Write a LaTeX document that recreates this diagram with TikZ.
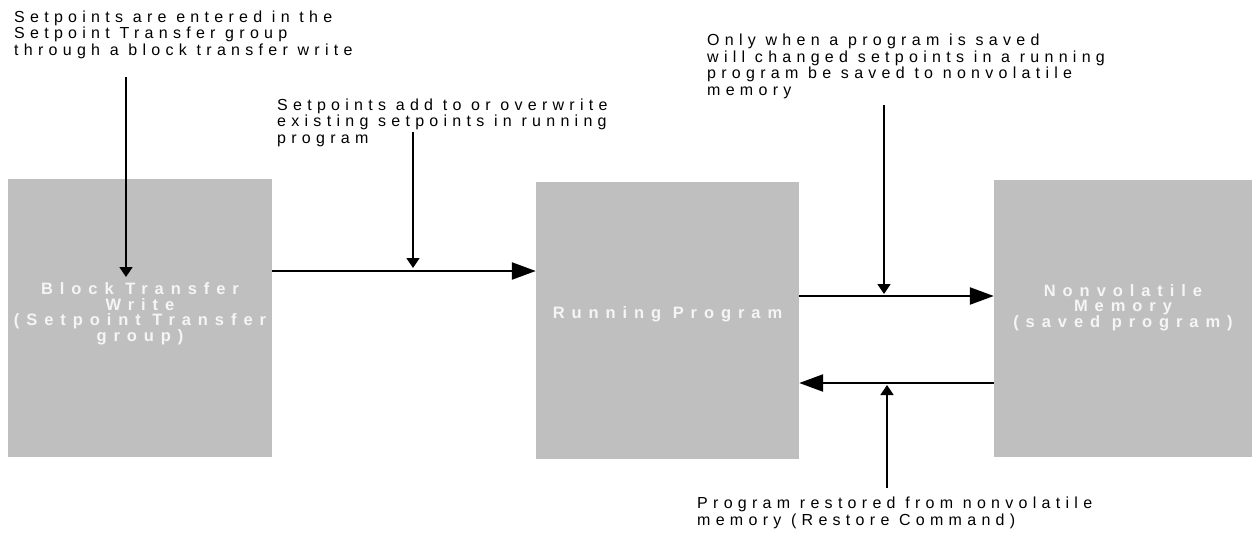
\documentclass[tikz,border=0pt]{standalone}
\usepackage{fontspec}
\setmainfont{Liberation Sans}
\newfontfamily\notefamily{Liberation Sans}[LetterSpace=33]
\newfontfamily\boxfamily{Liberation Sans}[LetterSpace=42]
\usetikzlibrary{arrows.meta}
\definecolor{boxgray}{HTML}{BFBFBF}
\definecolor{boxtext}{HTML}{F5F5F5}
\tikzset{
  box/.style={fill=boxgray, draw=none, inner sep=0pt},
  boxlabel/.style={inner sep=0pt, text=boxtext, align=center,
    font=\boxfamily\bfseries\fontsize{16.5pt}{15.5pt}\selectfont},
  note/.style={inner sep=0pt, anchor=base west, align=left,
    font=\notefamily\fontsize{16pt}{16.5pt}\selectfont},
  mainarrow/.style={line width=2.4pt, -{Triangle[length=24pt,width=17pt]}},
  pointer/.style={line width=1.6pt, -{Triangle[length=10pt,width=13pt]}},
}
\begin{document}
\begin{tikzpicture}[x=1pt,y=-1pt]
\useasboundingbox (0,0) rectangle (1252,536);
% boxes
\node[box, minimum width=264pt, minimum height=278pt] (bt) at (140,318) {};
\node[box, minimum width=263pt, minimum height=277pt] (rp) at (667.5,320.5) {};
\node[box, minimum width=258pt, minimum height=277pt] (nv) at (1123,318.5) {};
\node[boxlabel] (btl) at ([yshift=4pt]bt.center)
  {Block Transfer\\Write\\(Setpoint Transfer\\group)};
\node[boxlabel] (rpl) at ([yshift=6pt]rp.center) {Running Program};
\node[boxlabel] (nvl) at ([yshift=11pt]nv.center)
  {Nonvolatile\\Memory\\(saved program)};
% notes (anchored at the baseline of their last line)
\node[note] (n1) at (14,55) {Setpoints are entered in the\\Setpoint Transfer group\\through a block transfer write};
\node[note] (n2) at (277,143) {Setpoints add to or overwrite\\existing setpoints in running\\program};
\node[note] (n3) at (707,95) {Only when a program is saved\\will changed setpoints in a running\\program be saved to nonvolatile\\memory};
\node[note] (n4) at (697,525) {Program restored from nonvolatile\\memory (Restore Command)};
% rows
\coordinate (y1) at (0,271);
\coordinate (y2) at (0,296);
\coordinate (y3) at (0,383);
\draw[mainarrow] (bt.east |- y1) -- (rp.west |- y1);
\draw[mainarrow] (rp.east |- y2) -- (nv.west |- y2);
\draw[mainarrow] (nv.west |- y3) -- (rp.east |- y3);
% pointers
\coordinate (p1s) at (126,77);  \coordinate (p1e) at (126,277);
\coordinate (p2s) at (413,132); \coordinate (p2e) at (413,268);
\coordinate (p3s) at (884,105); \coordinate (p3e) at (884,294);
\coordinate (p4s) at (887,488); \coordinate (p4e) at (887,385);
\draw[pointer] (p1s) -- (p1e);
\draw[pointer] (p2s) -- (p2e);
\draw[pointer] (p3s) -- (p3e);
\draw[pointer] (p4s) -- (p4e);
\end{tikzpicture}
\end{document}
